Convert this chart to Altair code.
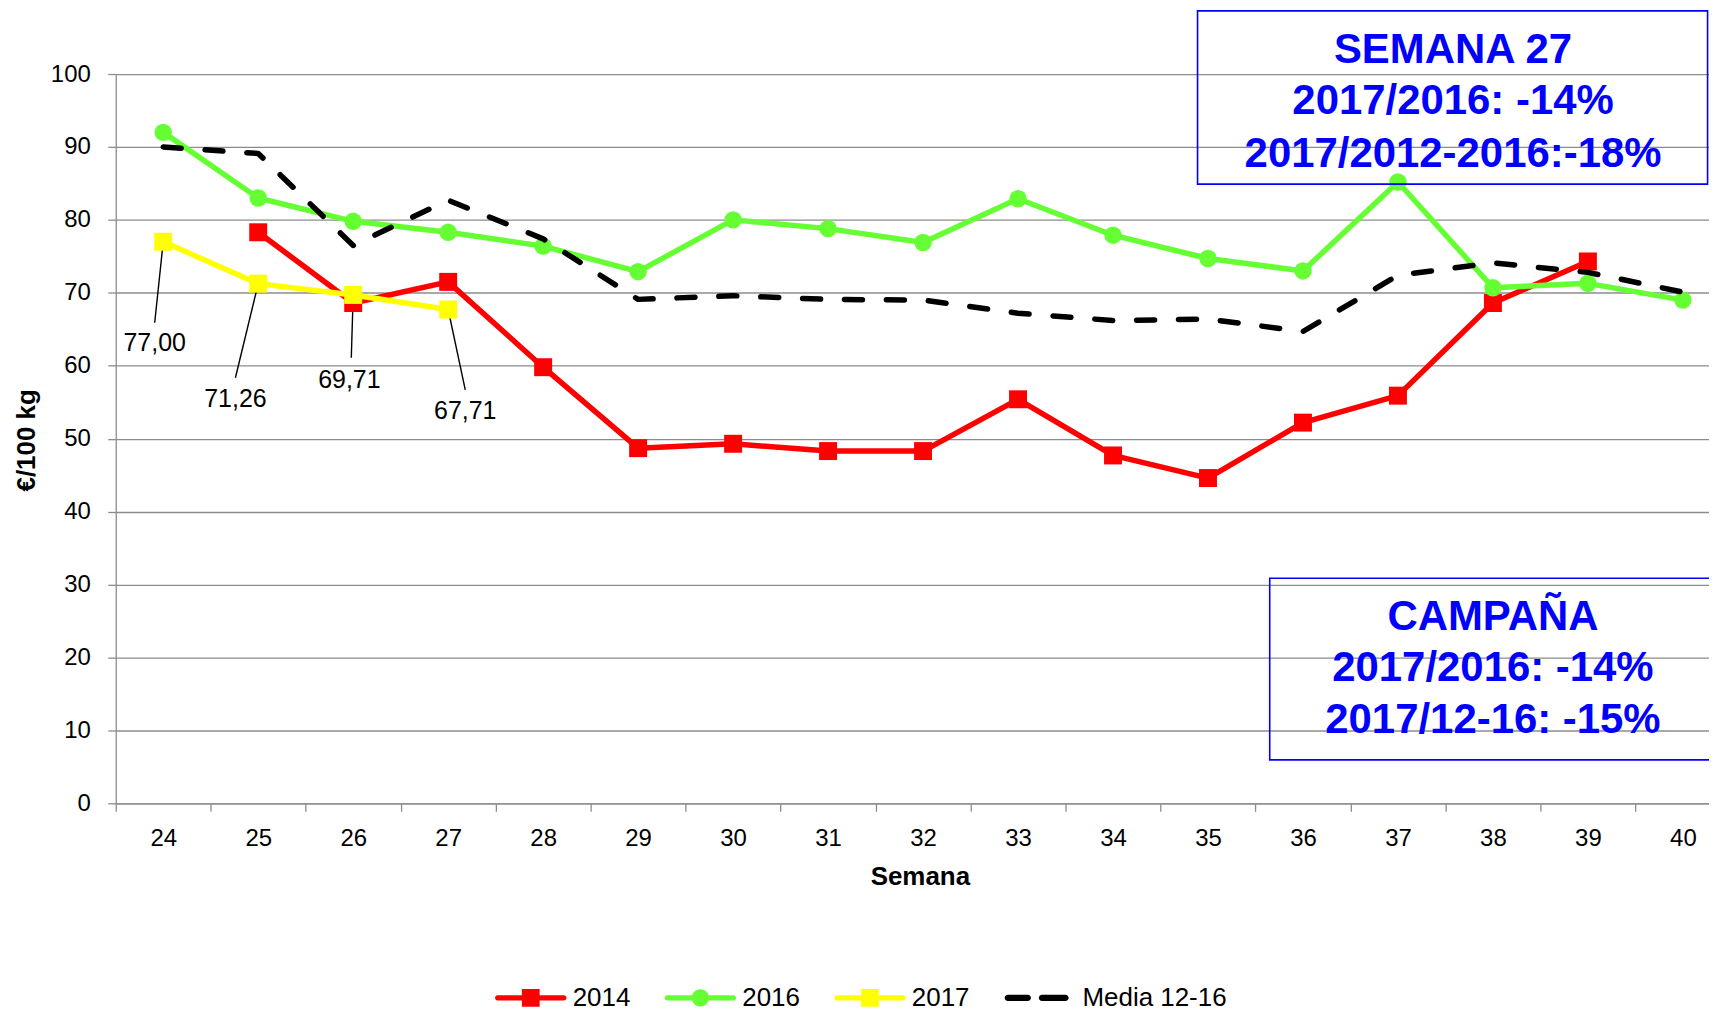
import altair as alt
import pandas as pd

# ---------------- data ----------------
semanas = list(range(24, 41))
s2014 = [None, 78.3, 68.6, 71.5, 59.8, 48.7, 49.3, 48.3, 48.3, 55.4, 47.7, 44.6, 52.2, 55.9, 68.6, 74.3, None]
s2016 = [92.0, 83.0, 79.8, 78.3, 76.4, 72.9, 80.0, 78.8, 76.9, 82.9, 77.9, 74.7, 73.0, 85.2, 70.7, 71.3, 69.0]
s2017 = [77.00, 71.26, 69.71, 67.71, None, None, None, None, None, None, None, None, None, None, None, None, None]
media = [90.0, 89.1, 76.5, 82.7, 77.4, 69.1, 69.6, 69.1, 69.0, 67.2, 66.2, 66.4, 64.7, 72.4, 74.1, 72.8, 70.1]

series_names = ["2014", "2016", "2017", "Media 12-16"]
series_colors = ["#FF0000", "#66FF33", "#FFFF00", "#000000"]

# data labels of 2017 (text, label position, end of leader line) in data units
etiquetas_2017 = ["77,00", "71,26", "69,71", "67,71"]
etiqueta_x = [23.91, 24.76, 25.96, 27.18]
etiqueta_y = [63.1, 55.5, 58.1, 53.8]
guia_x2 = [23.91, 24.76, 25.98, 27.18]
guia_y2 = [65.9, 58.35, 61.1, 56.7]

# annotation boxes
cuadro_lineas = [
    ["SEMANA 27", "2017/2016: -14%", "2017/2012-2016:-18%"],
    ["CAMPAÑA", "2017/2016: -14%", "2017/12-16: -15%"],
]
cuadro_x = [34.89, 35.65]
cuadro_x2 = [40.26, 40.45]
cuadro_y = [108.66, 30.86]
cuadro_y2 = [84.9, 5.96]
cuadro_texto_x = [37.58, 38.0]
cuadro_texto_y = [[101.5, 94.5, 87.3], [23.75, 16.8, 9.7]]

# ---------------- tables ----------------
rows = []
for name, vals in zip(series_names, [s2014, s2016, s2017, media]):
    for s, v in zip(semanas, vals):
        if v is not None:
            rows.append({"semana": s, "valor": v, "serie": name})
df = pd.DataFrame(rows)

df_guias = pd.DataFrame({
    "semana": semanas[:4], "valor": s2017[:4],
    "semana2": guia_x2, "valor2": guia_y2,
})
df_etq = pd.DataFrame({"semana": etiqueta_x, "valor": etiqueta_y, "texto": etiquetas_2017})
df_cuadros = pd.DataFrame({"semana": cuadro_x, "semana2": cuadro_x2,
                           "valor": cuadro_y, "valor2": cuadro_y2})
txt_rows = []
for i, lines in enumerate(cuadro_lineas):
    for j, t in enumerate(lines):
        txt_rows.append({"semana": cuadro_texto_x[i], "valor": cuadro_texto_y[i][j], "texto": t})
df_ctxt = pd.DataFrame(txt_rows)

# ---------------- styling ----------------
FONT = "Liberation Sans"
GRAY = "#8c8c8c"
W, H = 1597, 731
xscale = alt.Scale(domain=[23.5, 40.275], nice=False, zero=False)
yscale = alt.Scale(domain=[0, 100], nice=False)

tick_vals = [23.5 + 0.5 * i for i in range(34)]
xaxis = alt.Axis(
    title="Semana", values=tick_vals,
    labelExpr="datum.value % 1 == 0 ? format(datum.value, 'd') : ''",
    tickOpacity={"condition": {"test": "datum.value % 1 == 0", "value": 0}, "value": 1},
    tickSize=8, tickColor=GRAY, tickWidth=1.3,
    domainColor=GRAY, domainWidth=1.3, grid=False,
    labelFont=FONT, labelFontSize=24, labelColor="black",
    labelPadding=34, labelBaseline="alphabetic", labelOverlap=False, labelFlush=False,
    titleFont=FONT, titleFontSize=26, titleFontWeight="bold", titleColor="black",
    titleX=806, titleY=81.5, titleBaseline="alphabetic", titleAlign="center", titleAngle=0,
)
yaxis = alt.Axis(
    title="€/100 kg", values=list(range(0, 101, 10)),
    grid=True, gridColor=GRAY, gridWidth=1.3,
    tickSize=8, tickColor=GRAY, tickWidth=1.3,
    domainColor=GRAY, domainWidth=1.3,
    labelFont=FONT, labelFontSize=24, labelColor="black", labelPadding=17.5,
    titleFont=FONT, titleFontSize=26, titleFontWeight="bold", titleColor="black",
    titleAngle=270, titleX=-81, titleY=366.7, titleBaseline="alphabetic", titleAlign="center",
)

X = alt.X("semana:Q", scale=xscale, axis=xaxis)
Y = alt.Y("valor:Q", scale=yscale, axis=yaxis)


def stadium(x1, x2, h):
    return (f"M{x1},{-h}H{x2}A{h},{h} 0 0 1 {x2},{h}H{x1}A{h},{h} 0 0 1 {x1},{-h}Z")


sq = "M-0.25,-0.25H0.25V0.25H-0.25Z"
circ = "M-0.245,0A0.245,0.245 0 1 1 0.245,0A0.245,0.245 0 1 1 -0.245,0Z"
line_l = stadium(-0.93, -0.2, 0.075)
line_r = stadium(0.2, 0.93, 0.075)
legend_shapes = [
    line_l + line_r + sq,
    line_l + line_r + circ,
    line_l + line_r + sq,
    stadium(-0.92, -0.36, 0.09) + stadium(0.04, 0.7, 0.09),
]

leg = alt.Legend(
    orient="none", legendX=380, legendY=890, direction="horizontal", columns=4,
    symbolSize=5084, symbolStrokeWidth=0, symbolOpacity=1, labelFont=FONT, labelFontSize=26,
    labelColor="black", labelOffset=6, columnPadding=34, padding=0,
)

base = alt.Chart(df)

guias = alt.Chart(df_guias).mark_rule(color="black", strokeWidth=1.4).encode(
    x=X, y=Y, x2="semana2:Q", y2="valor2:Q")

LW = 5.5


def serie_line(name, color, dash=None):
    kw = dict(color=color, strokeWidth=LW, strokeJoin="round", strokeCap="round")
    if dash:
        kw["strokeDash"] = dash
    return base.transform_filter(alt.datum.serie == name).mark_line(**kw).encode(
        x=X, y=Y, order="semana:Q")


def serie_points(name, color, shape, size):
    return base.transform_filter(alt.datum.serie == name).mark_point(
        shape=shape, filled=True, size=size, color=color, opacity=1).encode(x=X, y=Y)


# legend-only layer: its points sit below the plot and are clipped away
leyenda = base.transform_calculate(fuera="-60").mark_point(filled=True, clip=True).encode(
    x=X,
    y=alt.Y("fuera:Q", scale=yscale, axis=yaxis),
    color=alt.Color("serie:N", title=None,
                    scale=alt.Scale(domain=series_names, range=series_colors), legend=leg),
    shape=alt.Shape("serie:N", title=None,
                    scale=alt.Scale(domain=series_names, range=legend_shapes), legend=leg),
)

etiquetas = alt.Chart(df_etq).mark_text(
    font=FONT, fontSize=25, color="black", align="center", baseline="middle").encode(
    x=X, y=Y, text="texto:N")

cuadros = alt.Chart(df_cuadros).mark_rect(
    fillOpacity=0, stroke="#0000FF", strokeWidth=1.6).encode(
    x=X, y=Y, x2="semana2:Q", y2="valor2:Q")

cuadro_txt = alt.Chart(df_ctxt).mark_text(
    font=FONT, fontSize=42, fontWeight="bold", color="#0000FF",
    align="center", baseline="alphabetic").encode(x=X, y=Y, text="texto:N")

chart = alt.layer(
    guias,
    serie_line("2014", "#FF0000"), serie_points("2014", "#FF0000", "square", 324),
    serie_line("2016", "#66FF33"), serie_points("2016", "#66FF33", "circle", 306),
    serie_line("2017", "#FFFF00"), serie_points("2017", "#FFFF00", "square", 324),
    serie_line("Media 12-16", "#000000", [18, 24]),
    leyenda, etiquetas, cuadros, cuadro_txt,
).properties(
    width=W, height=H,
    autosize=alt.AutoSizeParams(type="none"),
    padding={"left": 108, "top": 65, "right": 0, "bottom": 208},
).configure(font=FONT).configure_view(strokeWidth=0)

chart.save("out.html", embed_options={"renderer": "svg", "actions": False})
